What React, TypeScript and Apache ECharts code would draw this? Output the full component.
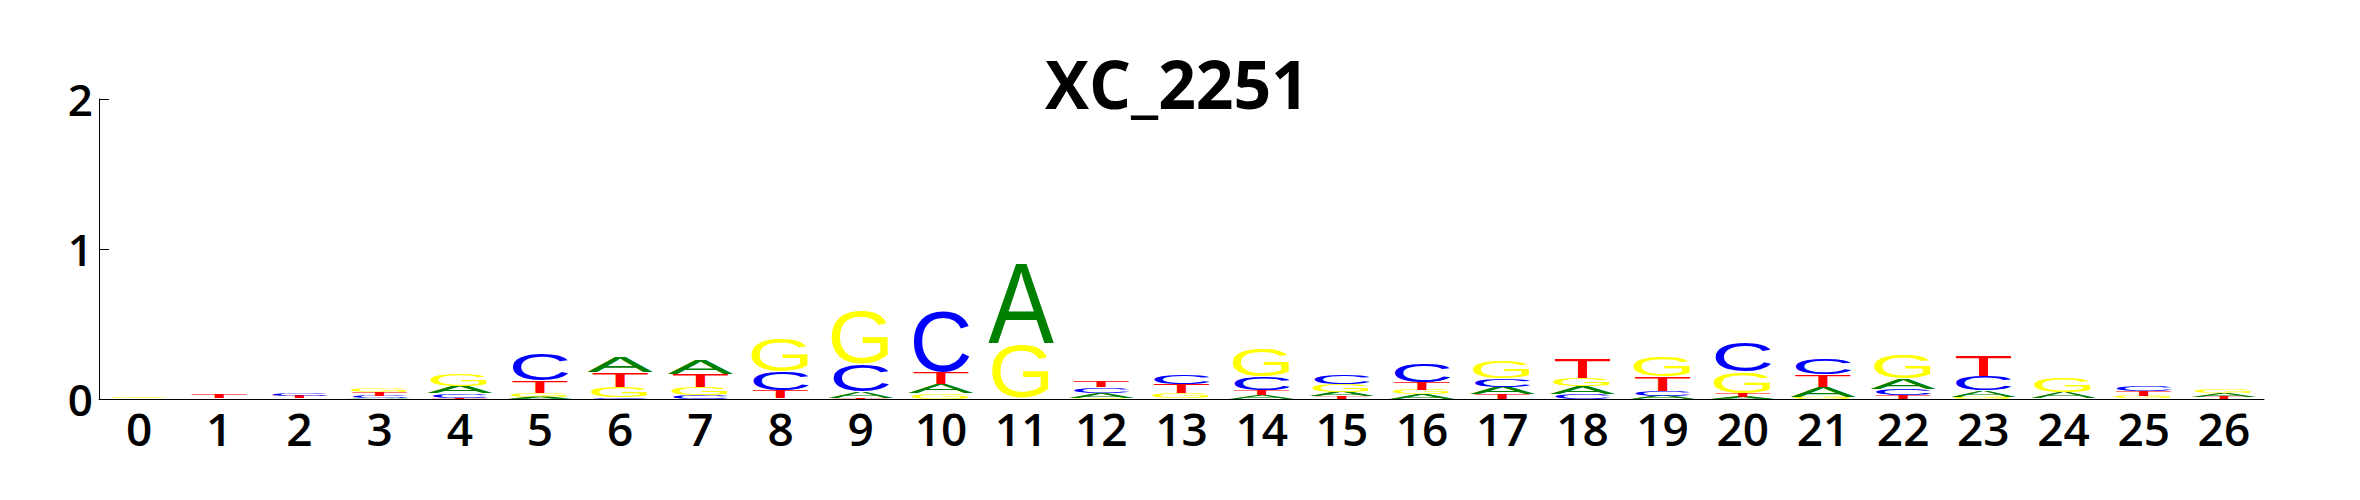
import React, { useEffect, useRef } from 'react';
import * as echarts from 'echarts';

// motif positions (x axis categories)
const positions = ['0', '1', '2', '3', '4', '5', '6', '7', '8', '9', '10', '11', '12', '13',
  '14', '15', '16', '17', '18', '19', '20', '21', '22', '23', '24', '25', '26'];

// information content (bits) of each base at every position
const bitsA = [0.002, 0.002, 0.006, 0.007, 0.05, 0.016, 0.108, 0.1, 0.005, 0.04, 0.062, 0.548, 0.03, 0.006,
  0.025, 0.031, 0.03, 0.05, 0.053, 0.022, 0.016, 0.067, 0.07, 0.044, 0.04, 0.003, 0.022];
const bitsC = [0.002, 0.002, 0.015, 0.015, 0.03, 0.178, 0.011, 0.027, 0.124, 0.184, 0.42, 0.002, 0.04, 0.064,
  0.094, 0.062, 0.128, 0.055, 0.033, 0.033, 0.2, 0.113, 0.044, 0.096, 0.002, 0.036, 0.002];
const bitsG = [0.011, 0.002, 0.003, 0.026, 0.078, 0.025, 0.072, 0.055, 0.228, 0.367, 0.038, 0.367, 0.007, 0.034,
  0.19, 0.05, 0.032, 0.115, 0.056, 0.136, 0.144, 0.016, 0.16, 0.016, 0.098, 0.016, 0.025];
const bitsT = [0.002, 0.027, 0.014, 0.023, 0.009, 0.08, 0.095, 0.085, 0.053, 0.009, 0.08, 0.004, 0.045, 0.06,
  0.033, 0.018, 0.051, 0.031, 0.136, 0.098, 0.022, 0.082, 0.024, 0.14, 0.002, 0.034, 0.013];

const bases = ['A', 'C', 'G', 'T'];
const baseBits = [bitsA, bitsC, bitsG, bitsT];
const yTicks = [0, 1, 2];

// glyph metrics of Liberation Sans (em units) + drawn width in px
const FONT = 100;
const CENTRAL = 0.3465; // svg "central" baseline above alphabetic
const glyphs = [
  { color: '#008000', top: 0.716, bottom: 0, ink: 0.67, width: 66 },
  { color: '#0000ff', top: 0.728, bottom: -0.012, ink: 0.63, width: 55 },
  { color: '#ffff00', top: 0.728, bottom: -0.012, ink: 0.667, width: 57 },
  { color: '#ff0000', top: 0.716, bottom: 0, ink: 0.565, width: 55 },
];

const App: React.FC = () => {
  const chartRef = useRef<HTMLDivElement>(null);

  useEffect(() => {
    if (!chartRef.current) return;
    const chart = echarts.init(chartRef.current, undefined, { renderer: 'svg' });

    // stack letters per position, smallest at the bottom
    const stacks: number[][] = [];
    positions.forEach((_, p) => {
      const order = [0, 1, 2, 3].sort((a, b) => baseBits[a][p] - baseBits[b][p]);
      let acc = 0;
      order.forEach((li) => {
        const v = baseBits[li][p];
        stacks.push([p, acc, acc + v, li]);
        acc += v;
      });
    });

    const option: echarts.EChartsOption = {
      animation: false,
      title: {
        text: 'XC_2251',
        left: 1172,
        textAlign: 'center',
        top: 45,
        textStyle: { fontSize: 66, fontWeight: 'bold', fontFamily: 'Open Sans', color: '#000' },
      },
      grid: { left: 99, right: 96, top: 99, bottom: 101, containLabel: false },
      xAxis: {
        type: 'category',
        data: positions,
        boundaryGap: true,
        axisLine: { lineStyle: { color: '#000', width: 1 } },
        axisTick: { show: false },
        axisLabel: { interval: 0, fontSize: 46, fontWeight: 600, margin: 6, color: '#000', fontFamily: 'Open Sans' },
      },
      yAxis: {
        type: 'value',
        min: yTicks[0],
        max: yTicks[yTicks.length - 1],
        interval: 1,
        axisLine: { show: true, lineStyle: { color: '#000', width: 1 } },
        axisTick: { show: true, inside: true, length: 10, lineStyle: { color: '#000' } },
        axisLabel: { fontSize: 44, fontWeight: 600, margin: 6, color: '#000', fontFamily: 'Open Sans' },
        splitLine: { show: false },
      },
      series: [
        {
          type: 'custom',
          silent: true,
          encode: { x: 0, y: [1, 2] },
          data: stacks,
          renderItem: (params: any, api: any) => {
            const p = api.value(0);
            const lo = api.value(1);
            const hi = api.value(2);
            const li = api.value(3);
            const [cx, yBot] = api.coord([p, lo]);
            const yTop = api.coord([p, hi])[1];
            const h = yBot - yTop;
            if (h < 1) return null;
            const g = glyphs[li];
            const sy = h / ((g.top - g.bottom) * FONT);
            const sx = g.width / (g.ink * FONT);
            return {
              type: 'text',
              x: cx,
              y: yBot - sy * (CENTRAL - g.bottom) * FONT,
              scaleX: sx,
              scaleY: sy,
              style: {
                text: bases[li],
                fontSize: FONT,
                fontFamily: 'Liberation Sans',
                fill: g.color,
                align: 'center',
                verticalAlign: 'middle',
              },
            };
          },
        },
      ],
    };

    chart.setOption(option);
    return () => chart.dispose();
  }, []);

  return (
    <div
      ref={chartRef}
      style={{ position: 'absolute', left: 0, top: 0, width: '2360px', height: '500px', background: '#fff' }}
    />
  );
};

export default App;
